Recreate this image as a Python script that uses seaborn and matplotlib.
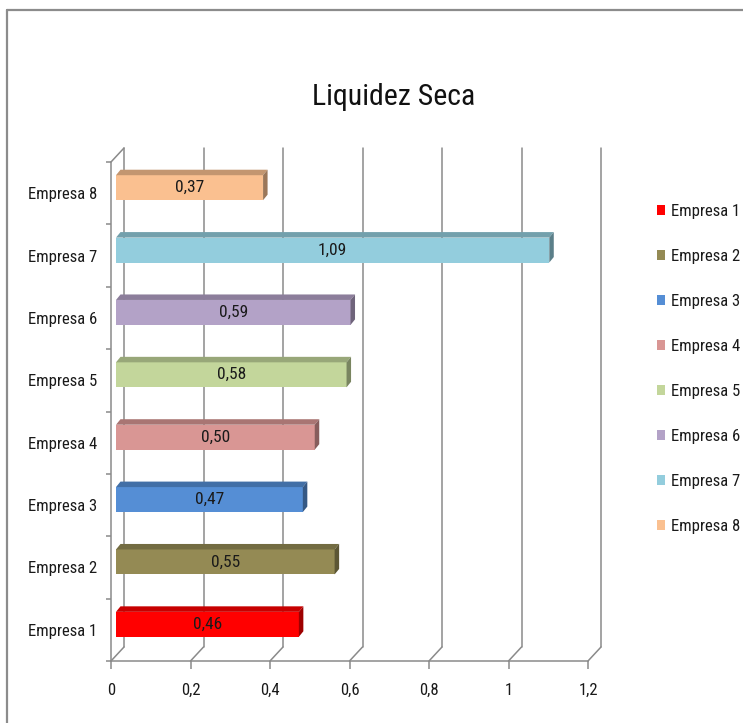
import matplotlib
matplotlib.use("Agg")
import matplotlib.pyplot as plt
from matplotlib.lines import Line2D
from matplotlib.patches import Polygon
from matplotlib.transforms import ScaledTranslation
from matplotlib import font_manager
import matplotlib.colors as mcolors
import pandas as pd
import seaborn as sns

# --- data -----------------------------------------------------------------
empresas = ["Empresa 1", "Empresa 2", "Empresa 3", "Empresa 4",
            "Empresa 5", "Empresa 6", "Empresa 7", "Empresa 8"]
liquidez_seca = [0.46, 0.55, 0.47, 0.50, 0.58, 0.59, 1.09, 0.37]
cores = ["#FF0000", "#948A54", "#558ED5", "#D99694",
         "#C3D69B", "#B3A2C7", "#93CDDD", "#FAC090"]
x_ticks = [0, 0.2, 0.4, 0.6, 0.8, 1.0, 1.2]
x_tick_labels = ["0", "0,2", "0,4", "0,6", "0,8", "1", "1,2"]
titulo = "Liquidez Seca"

df = pd.DataFrame({"empresa": empresas, "valor": liquidez_seca})

# --- style ----------------------------------------------------------------
sns.set_theme(style="white")
installed = {f.name for f in font_manager.fontManager.ttflist}
for fam in ["Liberation Sans Narrow", "Roboto Condensed",
            "Open Sans Condensed", "Lato", "Roboto", "DejaVu Sans"]:
    if fam in installed:
        base_font = fam
        break
plt.rcParams["font.family"] = [base_font, "DejaVu Sans"]
fs_small = 12
fs_label = 12.5
fs_title = 21.5

W, H = 743, 723
fig = plt.figure(figsize=(W / 100, H / 100), dpi=100)
fig.patch.set_facecolor("white")

# front plane of the plot area (pixels)
left_px, right_px, bottom_px, top_px = 111, 588, 661, 162
ax = fig.add_axes([left_px / W, 1 - bottom_px / H,
                   (right_px - left_px) / W, (bottom_px - top_px) / H])
ax.set_facecolor("none")

order = empresas[::-1]
sns.barplot(data=df, x="valor", y="empresa", hue="empresa",
            order=order, hue_order=empresas, palette=cores,
            width=0.4, dodge=False, saturation=1, linewidth=0,
            legend=True, ax=ax)
ax.set_xlim(0, 1.2)
ax.set_ylim(len(empresas) - 0.5, -0.5)
ax.set_xlabel("")
ax.set_ylabel("")
for s in ax.spines.values():
    s.set_visible(False)

px_x = 1.2 / (right_px - left_px)
px_y = len(empresas) / (bottom_px - top_px)
grid_c = "#8A8A8A"
lw = 1.1

# depth of the floor / back wall and of each bar (pixels)
wall_dx, wall_dy = 13, 14
bar_off = ScaledTranslation(5 / 100, 5.5 / 100, fig.dpi_scale_trans)
bar_dx, bar_dy = 4.5 * px_x, 5.5 * px_y
shifted = ax.transData + bar_off

ybot, ytop = len(empresas) - 0.5, -0.5

# back wall gridlines + floor diagonals + front axis lines
for t in x_ticks:
    bx = t + wall_dx * px_x
    ax.add_line(Line2D([bx, bx], [ybot - wall_dy * px_y, ytop - wall_dy * px_y],
                       color=grid_c, lw=lw, clip_on=False, zorder=0.5))
    ax.add_line(Line2D([t, bx], [ybot, ybot - wall_dy * px_y],
                       color=grid_c, lw=lw, clip_on=False, zorder=0.5))
ax.add_line(Line2D([0, 1.2], [ybot, ybot], color=grid_c, lw=lw,
                   clip_on=False, zorder=0.6))
ax.add_line(Line2D([0, 0], [ybot, ytop], color=grid_c, lw=lw,
                   clip_on=False, zorder=0.6))
ax.add_line(Line2D([0, wall_dx * px_x], [ytop, ytop - wall_dy * px_y],
                   color=grid_c, lw=lw, clip_on=False, zorder=0.6))


def shade(c, f):
    r, g, b = mcolors.to_rgb(c)
    return (r * f, g * f, b * f)


# 3-D look: shift the front faces, add top and side faces, value labels
for cont in ax.containers:
    for patch in cont:
        w = patch.get_width()
        if w <= 0:
            continue
        patch.set_transform(shifted)
        patch.set_zorder(2)
        y0 = patch.get_y()
        h = patch.get_height()
        col = patch.get_facecolor()
        top = Polygon([(0, y0), (w, y0), (w + bar_dx, y0 - bar_dy),
                       (bar_dx, y0 - bar_dy)], closed=True,
                      facecolor=shade(col, 0.78), edgecolor="none",
                      transform=shifted, zorder=2, clip_on=False)
        side = Polygon([(w, y0), (w + bar_dx, y0 - bar_dy),
                        (w + bar_dx, y0 + h - bar_dy), (w, y0 + h)],
                       closed=True, facecolor=shade(col, 0.62),
                       edgecolor="none", transform=shifted, zorder=2,
                       clip_on=False)
        ax.add_patch(top)
        ax.add_patch(side)
        ax.text(w / 2, y0 + h / 2, f"{w:.2f}".replace(".", ","),
                ha="center", va="center", fontsize=fs_label,
                color="#1a1a1a", transform=shifted, zorder=3)

# ticks
ax.set_xticks(x_ticks)
ax.set_xticklabels(x_tick_labels)
ax.tick_params(axis="x", direction="out", length=6, width=lw, color=grid_c,
               pad=10, labelsize=fs_small, labelcolor="#1a1a1a", bottom=True)
ax.set_yticks(range(len(order)))
ax.set_yticklabels(order)
ax.set_yticks([i + 0.5 for i in range(-1, len(order))], minor=True)
ax.tick_params(axis="y", which="major", length=0, pad=10,
               labelsize=fs_small, labelcolor="#1a1a1a")
ax.tick_params(axis="y", which="minor", direction="out", length=3.5,
               width=lw, color=grid_c, left=True)

# legend
sns.move_legend(ax, loc="upper left", bbox_to_anchor=(657 / W, 1 - 204 / H),
                bbox_transform=fig.transFigure, frameon=False, title=None,
                fontsize=fs_small, handlelength=0.5, handleheight=0.5,
                handletextpad=0.35, labelspacing=1.8, borderpad=0,
                borderaxespad=0)
for t in ax.get_legend().get_texts():
    t.set_color("#1a1a1a")

# title
fig.text(394 / W, 1 - 105 / H, titulo, ha="center", va="baseline",
         fontsize=fs_title, color="#111111")

# chart border (top and left edges)
fig.add_artist(Line2D([7 / W, 1], [1 - 9.5 / H, 1 - 9.5 / H],
                      transform=fig.transFigure, color="#8C8C8C", lw=1.6))
fig.add_artist(Line2D([7 / W, 7 / W], [0, 1 - 9.5 / H],
                      transform=fig.transFigure, color="#8C8C8C", lw=1.6))

fig.savefig("out.png", dpi=100)
